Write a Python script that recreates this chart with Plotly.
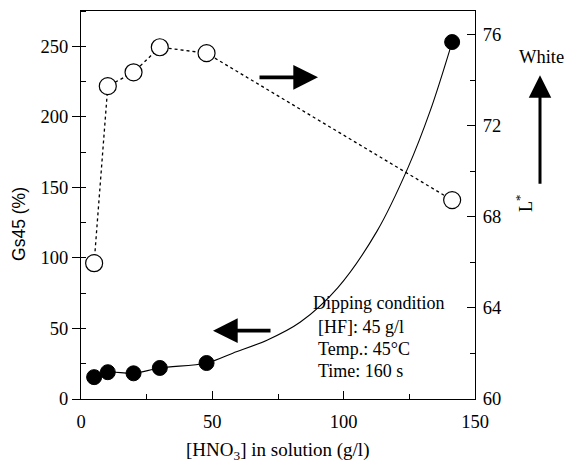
import plotly.graph_objects as go

# Data
hno3 = [5.0, 10.2, 20.0, 30.0, 47.8, 141.3]
gs45 = [15.5, 19.0, 18.2, 22.0, 25.5, 253.0]
lstar = [65.96, 73.73, 74.34, 75.44, 75.18, 68.73]

# Solid trend curve through the Gs45 points
curve_x = [5.0, 10.2, 20.0, 30.0, 47.8, 57.8, 70.8, 83.4, 97.8, 112.7, 124.5, 132.9, 141.3]
curve_y = [15.5, 19.0, 18.2, 22.0, 25.5, 32.5, 41.7, 54.4, 79.0, 119.0, 164.0, 204.0, 253.0]

x_ticks = [0, 50, 100, 150]
y1_ticks = [0, 50, 100, 150, 200, 250]
y2_ticks = [60, 64, 68, 72, 76]

SERIF = "Liberation Serif"
SANS = "Liberation Sans"

fig = go.Figure()

fig.add_trace(go.Scatter(
    x=curve_x, y=curve_y, mode="lines",
    line=dict(color="black", width=1.1, shape="spline", smoothing=1.0),
    showlegend=False, hoverinfo="skip"))

fig.add_trace(go.Scatter(
    x=hno3, y=gs45, mode="markers",
    marker=dict(symbol="circle", size=15, color="black",
                line=dict(color="black", width=1)),
    showlegend=False))

fig.add_trace(go.Scatter(
    x=hno3, y=lstar, mode="lines+markers", yaxis="y2",
    line=dict(color="black", width=1.3, dash="dot"),
    marker=dict(symbol="circle", size=17, color="white",
                line=dict(color="black", width=1.2)),
    showlegend=False))

W, H = 566, 463
PL, PR, PT, PB = 81, 475, 10.5, 399.5   # plot area in page pixels
L, R, T, B = PL, W - PR, PT, H - PB
pw = W - L - R
ph = H - T - B

def px(xp):
    return (xp - PL) / pw

def py(yp):
    return (PB - yp) / ph

def arrow(tx, ty, dx, dy, w, s):
    return dict(x=px(tx), y=py(ty), xref="paper", yref="paper",
                ax=dx, ay=dy, axref="pixel", ayref="pixel",
                showarrow=True, arrowhead=2, arrowsize=s, arrowwidth=w,
                arrowcolor="black", text="")

def label(t, xx, yy, size, family=SERIF, angle=0, xanchor="center"):
    return dict(x=px(xx), y=py(yy), xref="paper", yref="paper",
                text=t, showarrow=False, textangle=angle,
                xanchor=xanchor, yanchor="middle",
                font=dict(family=family, size=size, color="black"))

ann = [
    arrow(213, 331, 59, 0, 3.8, 1.3),    # arrow to Gs45 axis
    arrow(318, 77, -60, 0, 3.8, 1.3),    # arrow to L* axis
    arrow(540, 75, 0, 110, 3.0, 1.5),    # 'White' arrow
    label("White", 541, 57, 18.5),
    label("L<sup>*</sup>", 524, 204, 18, angle=-90),
    label("Dipping condition", 311, 303, 18, xanchor="left"),
    label("[HF]: 45 g/l", 316, 327, 18, xanchor="left"),
    label("Temp.: 45°C", 316, 349, 18, xanchor="left"),
    label("Time: 160 s", 316, 371, 18, xanchor="left"),
    label("[HNO<sub>3</sub>] in solution (g/l)", 277, 452, 19),
    label("Gs45 (%)", 19, 224, 17.5, family=SANS, angle=-90),
]

tickfont = dict(family=SERIF, size=18.5, color="black")

fig.update_layout(
    width=W, height=H,
    margin=dict(l=L, r=R, t=T, b=B),
    paper_bgcolor="white", plot_bgcolor="white",
    font=dict(family=SERIF, size=18.5, color="black"),
    annotations=ann,
    xaxis=dict(range=[0, 150], tickvals=x_ticks, ticks="inside", ticklen=8,
               tickwidth=1, tickcolor="black", showline=True, linecolor="black",
               linewidth=1.2, mirror=True, showgrid=False, zeroline=False,
               ticklabelstandoff=6,
               minor=dict(dtick=25, tick0=0, ticks="inside", ticklen=5,
                          tickcolor="black", showgrid=False),
               tickfont=tickfont),
    yaxis=dict(range=[0, 275], tickvals=y1_ticks, ticks="outside", ticklen=8,
               tickwidth=1, tickcolor="black", showline=True, linecolor="black",
               linewidth=1.2, showgrid=False, zeroline=False,
               minor=dict(dtick=25, tick0=0, ticks="inside", ticklen=5,
                          tickcolor="black", showgrid=False),
               tickfont=tickfont),
    yaxis2=dict(range=[60, 77.03], tickvals=y2_ticks, overlaying="y", side="right",
                ticks="inside", ticklen=8, tickwidth=1, tickcolor="black",
                showline=True, linecolor="black", linewidth=1.2,
                showgrid=False, zeroline=False, ticklabelstandoff=3,
                minor=dict(dtick=2, tick0=60, ticks="inside", ticklen=5,
                           tickcolor="black", showgrid=False),
                tickfont=tickfont),
)

fig.write_html(
    "out.html",
    config={"displayModeBar": False},
    post_script="document.body.style.margin='0';document.body.style.overflow='hidden';",
)
